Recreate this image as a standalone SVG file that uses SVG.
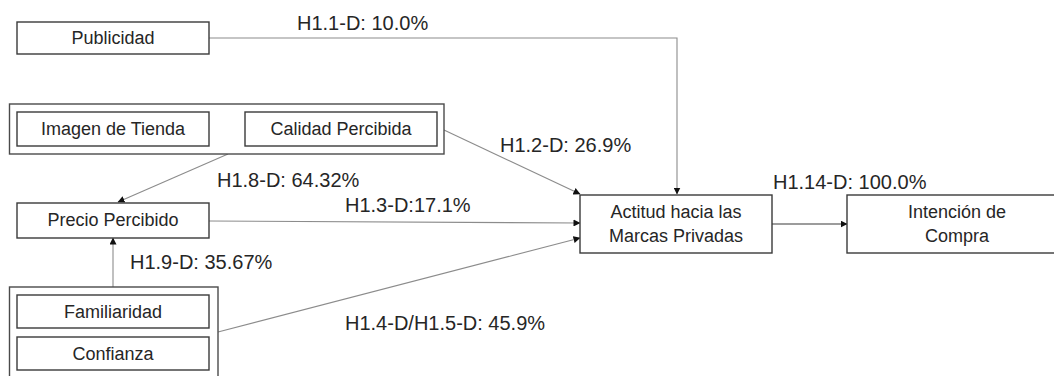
<svg xmlns="http://www.w3.org/2000/svg" width="1054" height="376" viewBox="0 0 1054 376">
  <style>
    .box { fill: #ffffff; stroke: #3a3a3a; stroke-width: 1.4; }
    .grp { fill: #ffffff; stroke: #4a4a4a; stroke-width: 1.4; }
    .t { font-family: "Liberation Sans", Arial, sans-serif; font-size: 18px; fill: #262626; text-anchor: middle; dominant-baseline: central; }
    .lbl { font-family: "Liberation Sans", Arial, sans-serif; font-size: 20px; fill: #262626; }
    .edge { fill: none; stroke: #8c8c8c; stroke-width: 1.1; marker-end: url(#arrow); }
    .edge-dark { fill: none; stroke: #3a3a3a; stroke-width: 1.1; marker-end: url(#arrow); }
  </style>
  <defs>
    <marker id="arrow" markerWidth="7" markerHeight="7" refX="6.5" refY="3.5" orient="auto" markerUnits="userSpaceOnUse">
      <path d="M0,0 L7,3.5 L0,7 Z" fill="#111111"/>
    </marker>
  </defs>
  <rect width="1054" height="376" fill="#ffffff"/>

  <!-- connectors -->
  <g id="connectors">
    <path class="edge" d="M209,38 H677 V194"/>
    <path class="edge" d="M444,130 L580,194"/>
    <path class="edge" d="M228,154 L118,202"/>
    <path class="edge" d="M209,221 L580,223"/>
    <path class="edge" d="M113,287 V238"/>
    <path class="edge" d="M218,332 L580,238"/>
    <path class="edge-dark" d="M772,224 H847"/>
  </g>

  <!-- connector labels -->
  <g id="labels">
    <text class="lbl" x="297" y="30">H1.1-D: 10.0%</text>
    <text class="lbl" x="500" y="152">H1.2-D: 26.9%</text>
    <text class="lbl" x="217" y="187">H1.8-D: 64.32%</text>
    <text class="lbl" x="345" y="212">H1.3-D:17.1%</text>
    <text class="lbl" x="130" y="269">H1.9-D: 35.67%</text>
    <text class="lbl" x="345" y="330">H1.4-D/H1.5-D: 45.9%</text>
    <text class="lbl" x="773" y="189">H1.14-D: 100.0%</text>
  </g>

  <g id="publicidad">
    <rect class="box" x="17" y="22" width="192" height="32"/>
    <text class="t" x="113" y="38">Publicidad</text>
  </g>

  <g id="tienda-calidad">
    <rect class="grp" x="9.5" y="104" width="434.5" height="50"/>
    <g id="imagen-tienda">
      <rect class="box" x="17" y="112" width="192" height="34"/>
      <text class="t" x="113" y="129">Imagen de Tienda</text>
    </g>
    <g id="calidad-percibida">
      <rect class="box" x="245" y="112" width="192" height="34"/>
      <text class="t" x="341" y="129">Calidad Percibida</text>
    </g>
  </g>

  <g id="precio-percibido">
    <rect class="box" x="17" y="203" width="192" height="35"/>
    <text class="t" x="113" y="220">Precio Percibido</text>
  </g>

  <g id="familiaridad-confianza">
    <rect class="grp" x="9.5" y="287" width="208.5" height="95"/>
    <g id="familiaridad">
      <rect class="box" x="17" y="295" width="192" height="33"/>
      <text class="t" x="113" y="311.5">Familiaridad</text>
    </g>
    <g id="confianza">
      <rect class="box" x="17" y="337" width="192" height="33"/>
      <text class="t" x="113" y="353.5">Confianza</text>
    </g>
  </g>

  <g id="actitud">
    <rect class="box" x="580" y="195" width="192" height="58"/>
    <text class="t" x="676" y="212">Actitud hacia las</text>
    <text class="t" x="676" y="236">Marcas Privadas</text>
  </g>

  <g id="intencion">
    <rect class="box" x="847" y="195" width="220" height="58"/>
    <text class="t" x="957" y="212">Intención de</text>
    <text class="t" x="957" y="236">Compra</text>
  </g>
</svg>
